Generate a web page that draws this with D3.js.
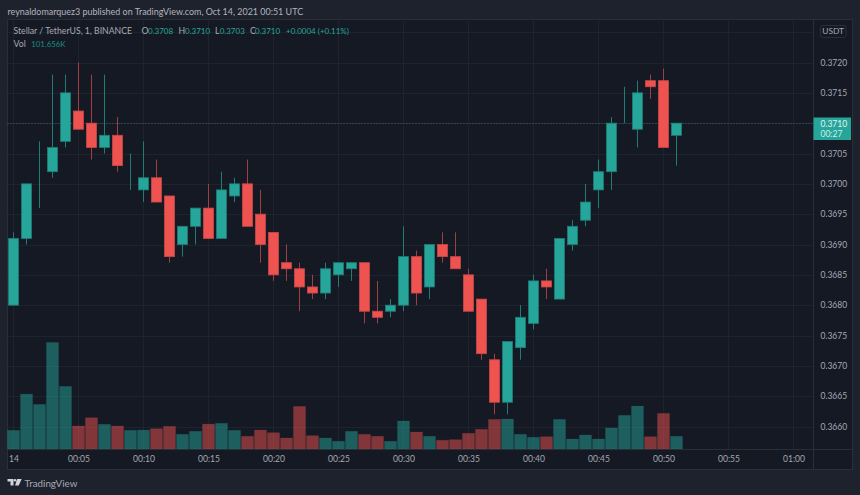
<!DOCTYPE html>
<html>
<head>
<meta charset="utf-8">
<script src="https://cdn.jsdelivr.net/npm/d3@7"></script>
<style>
    html, body { margin: 0; padding: 0; background: #1e222d; overflow: hidden; }
    svg { display: block; font-family: Lato, sans-serif; }
    .axis path, .axis line { display: none; }
    .axis text { fill: #a6a9b2; font-size: 8.5px; font-family: Lato, sans-serif; }
</style>
</head>
<body>
<svg id="chart" width="860" height="495"></svg>
<script>
// candles, one per minute from 00:00
const opens  = [0.3680,0.3691,0.3700,0.3702,0.3707,0.3712,0.3710,0.3706,0.3708,0.3702,0.3699,0.3701,0.3698,0.3690,0.3693,0.3696,0.3691,0.3698,0.3700,0.3695,0.3692,0.3687,0.3686,0.3683,0.3682,0.3685,0.3686,0.3687,0.3679,0.3679,0.3680,0.3688,0.3683,0.3690,0.3688,0.3685,0.3681,0.3671,0.3664,0.3673,0.3677,0.3684,0.3681,0.3690,0.3694,0.3699,0.3702,0.3710,0.3709,0.3717,0.3717,0.3708];
const highs  = [0.3692,0.3700,0.3707,0.3718,0.3718,0.3720,0.3718,0.3718,0.3711,0.3705,0.3707,0.3704,0.3698,0.3693,0.3696,0.3700,0.3702,0.3701,0.3704,0.3699,0.3692,0.3690,0.3687,0.3685,0.3687,0.3687,0.3687,0.3687,0.3684,0.3681,0.3693,0.3689,0.3690,0.3692,0.3692,0.3686,0.3681,0.3672,0.3674,0.3680,0.3685,0.3686,0.3691,0.3694,0.3700,0.3704,0.3711,0.3716,0.3717,0.3718,0.3719,0.3710];
const lows   = [0.3680,0.3690,0.3696,0.3701,0.3706,0.3709,0.3704,0.3705,0.3702,0.3699,0.3697,0.3697,0.3687,0.3688,0.3690,0.3691,0.3691,0.3697,0.3693,0.3687,0.3684,0.3684,0.3679,0.3681,0.3681,0.3683,0.3684,0.3677,0.3677,0.3678,0.3679,0.3680,0.3681,0.3687,0.3686,0.3679,0.3671,0.3662,0.3662,0.3671,0.3676,0.3681,0.3681,0.3689,0.3693,0.3696,0.3699,0.3710,0.3706,0.3714,0.3706,0.3703];
const closes = [0.3691,0.3700,0.3700,0.3706,0.3715,0.3709,0.3706,0.3708,0.3703,0.3702,0.3701,0.3697,0.3688,0.3693,0.3696,0.3691,0.3699,0.3700,0.3693,0.3690,0.3685,0.3686,0.3683,0.3682,0.3686,0.3687,0.3687,0.3679,0.3678,0.3680,0.3688,0.3682,0.3690,0.3688,0.3686,0.3679,0.3672,0.3664,0.3674,0.3678,0.3684,0.3683,0.3691,0.3693,0.3697,0.3702,0.3710,0.3710,0.3715,0.3716,0.3706,0.3710];
const volumes = [150,441,358,856,503,185,251,198,185,150,152,163,182,118,142,200,206,150,102,152,131,88,342,107,88,62,142,118,102,62,225,136,102,70,75,126,158,238,241,118,94,99,238,80,112,80,169,270,345,99,286,101.656];

const priceTicks = [0.3660,0.3665,0.3670,0.3675,0.3680,0.3685,0.3690,0.3695,0.3700,0.3705,0.3715,0.3720];
const priceGrid = [0.3660,0.3665,0.3670,0.3675,0.3680,0.3685,0.3690,0.3695,0.3700,0.3705,0.3710,0.3715,0.3720,0.3725];
const timeTicks = [0,5,10,15,20,25,30,35,40,45,50,55,60];
const timeLabels = ["14","00:05","00:10","00:15","00:20","00:25","00:30","00:35","00:40","00:45","00:50","00:55","01:00"];

const paneLeft = 7.5, paneRight = 852.5, paneTop = 19.5, paneBottom = 469.5;
const axisX = 813.5, axisY = 449.5;

const upColor = '#26a69a';
const downColor = '#ef5350';
const upWick = '#1f7d76';
const downWick = '#a03f42';
const gridColor = '#1f232e';
const frameColor = '#2a2e39';
const mutedText = '#a6a9b2';
const greenText = '#26a69a';

// body drawn green when open == close too
const isUp = (i) => closes[i] >= opens[i];

const x = d3.scaleLinear().domain([0, 60]).range([13.5, 793.5]);
const y = d3.scaleLinear().domain([0.3660, 0.3720]).range([426.5, 62.5]);
const v = d3.scaleLinear().domain([0, 856]).range([449, 342.5]);
const fmt = d3.format('.4f');

const svg = d3.select('#chart');

// pane
svg.append('rect')
    .attr('x', paneLeft).attr('y', paneTop)
    .attr('width', paneRight - paneLeft).attr('height', paneBottom - paneTop)
    .attr('fill', '#151924')
    .attr('stroke', frameColor);

// grid
svg.append('g').selectAll('line')
    .data(priceGrid)
    .join('line')
    .attr('x1', paneLeft).attr('x2', axisX)
    .attr('y1', d => Math.round(y(d)) + 0.5)
    .attr('y2', d => Math.round(y(d)) + 0.5)
    .attr('stroke', gridColor);

svg.append('g').selectAll('line')
    .data(timeTicks)
    .join('line')
    .attr('x1', d => x(d)).attr('x2', d => x(d))
    .attr('y1', paneTop).attr('y2', axisY)
    .attr('stroke', gridColor);

// volume
svg.append('g').selectAll('rect')
    .data(volumes)
    .join('rect')
    .attr('x', (d, i) => x(i) - 6)
    .attr('y', d => v(d))
    .attr('width', 12)
    .attr('height', d => v(0) - v(d))
    .attr('fill', (d, i) => isUp(i) ? upColor : downColor)
    .attr('fill-opacity', 0.5)
    .attr('stroke', (d, i) => isUp(i) ? upColor : downColor)
    .attr('stroke-opacity', 0.12);

// last price line
svg.append('line')
    .attr('x1', paneLeft).attr('x2', axisX)
    .attr('y1', Math.round(y(closes[51])) + 0.5).attr('y2', Math.round(y(closes[51])) + 0.5)
    .attr('stroke', '#2f6f6c')
    .attr('stroke-dasharray', '1 2');

// wicks
svg.append('g').selectAll('line')
    .data(highs)
    .join('line')
    .attr('x1', (d, i) => x(i)).attr('x2', (d, i) => x(i))
    .attr('y1', d => y(d))
    .attr('y2', (d, i) => y(lows[i]))
    .attr('stroke', (d, i) => isUp(i) ? upWick : downWick);

// bodies
svg.append('g').selectAll('rect')
    .data(opens)
    .join('rect')
    .attr('x', (d, i) => x(i) - 5)
    .attr('y', (d, i) => y(Math.max(d, closes[i])))
    .attr('width', 10)
    .attr('height', (d, i) => Math.abs(y(d) - y(closes[i])))
    .attr('fill', (d, i) => isUp(i) ? upColor : downColor)
    .attr('stroke', (d, i) => isUp(i) ? upWick : '#c9474a')
    .attr('stroke-width', 0.8);

// frame separators
svg.append('line')
    .attr('x1', axisX).attr('x2', axisX)
    .attr('y1', paneTop).attr('y2', paneBottom)
    .attr('stroke', frameColor);
svg.append('line')
    .attr('x1', paneLeft).attr('x2', paneRight)
    .attr('y1', axisY).attr('y2', axisY)
    .attr('stroke', frameColor);

// axes
svg.append('g')
    .attr('class', 'axis')
    .attr('transform', 'translate(' + axisX + ',0)')
    .call(d3.axisRight(y).tickValues(priceTicks).tickFormat(fmt).tickSize(0).tickPadding(7));

svg.append('g')
    .attr('class', 'axis')
    .attr('transform', 'translate(0,' + axisY + ')')
    .call(d3.axisBottom(x).tickValues(timeTicks).tickFormat((d, i) => timeLabels[i]).tickSize(0).tickPadding(6));

// last price tag
svg.append('rect')
    .attr('x', axisX).attr('y', 117.5)
    .attr('width', 37.5).attr('height', 22.5)
    .attr('fill', upColor);
svg.append('text')
    .attr('x', 820.5).attr('y', 126.6)
    .attr('fill', '#e4f3f1').attr('font-size', 8.5)
    .text(fmt(closes[51]));
svg.append('text')
    .attr('x', 820.5).attr('y', 137.2)
    .attr('fill', '#d2ebe8').attr('font-size', 8.5)
    .text('00:27');

// USDT button
svg.append('rect')
    .attr('x', 820.5).attr('y', 25.5)
    .attr('width', 25.5).attr('height', 12)
    .attr('rx', 2)
    .attr('fill', 'none')
    .attr('stroke', frameColor);
svg.append('text')
    .attr('x', 833.2).attr('y', 34.4)
    .attr('text-anchor', 'middle')
    .attr('fill', mutedText).attr('font-size', 8.4)
    .text('USDT');

// top line
svg.append('text')
    .attr('x', 7.5).attr('y', 14.6)
    .attr('fill', '#b2b5be').attr('font-size', 8.95)
    .text('reynaldomarquez3 published on TradingView.com, Oct 14, 2021 00:51 UTC');

// legend
const change = closes[51] - closes[50];
const changePct = d3.format('+.2f')(change / closes[50] * 100) + '%';
const legend = [
    { text: 'Stellar / TetherUS, 1, BINANCE', x: 13.5, color: mutedText, size: 8.7 },
    { text: 'O', x: 141.5, color: mutedText, size: 8.7 },
    { text: fmt(opens[51]), x: 148, color: greenText, size: 8 },
    { text: 'H', x: 178.5, color: mutedText, size: 8.7 },
    { text: fmt(highs[51]), x: 185, color: greenText, size: 8 },
    { text: 'L', x: 215, color: mutedText, size: 8.7 },
    { text: fmt(lows[51]), x: 219.7, color: greenText, size: 8 },
    { text: 'C', x: 250, color: mutedText, size: 8.7 },
    { text: fmt(closes[51]), x: 255, color: greenText, size: 8 },
    { text: '+' + fmt(change) + ' (' + changePct + ')', x: 286, color: greenText, size: 8 }
];
svg.append('g').selectAll('text')
    .data(legend)
    .join('text')
    .attr('x', d => d.x)
    .attr('y', 34.4)
    .attr('fill', d => d.color)
    .attr('font-size', d => d.size)
    .text(d => d.text);

svg.append('text')
    .attr('x', 13.5).attr('y', 46.8)
    .attr('fill', mutedText).attr('font-size', 8.7)
    .text('Vol');
svg.append('text')
    .attr('x', 31.3).attr('y', 46.8)
    .attr('fill', '#1f8a81').attr('font-size', 7.8)
    .text(d3.format('.3f')(volumes[51]) + 'K');

// logo
svg.append('path')
    .attr('transform', 'translate(7.5,479)')
    .attr('d', 'M0 0H6V6.5H3V2.5H0Z M9.5 0H14.2L11.2 6.5H7.6Z')
    .attr('fill', '#d1d4dc');
svg.append('circle')
    .attr('cx', 15).attr('cy', 480.3).attr('r', 1.2)
    .attr('fill', '#d1d4dc');
svg.append('text')
    .attr('x', 24.5).attr('y', 486.5)
    .attr('fill', '#a6a9b2').attr('font-size', 9.8)
    .text('TradingView');
</script>
</body>
</html>
